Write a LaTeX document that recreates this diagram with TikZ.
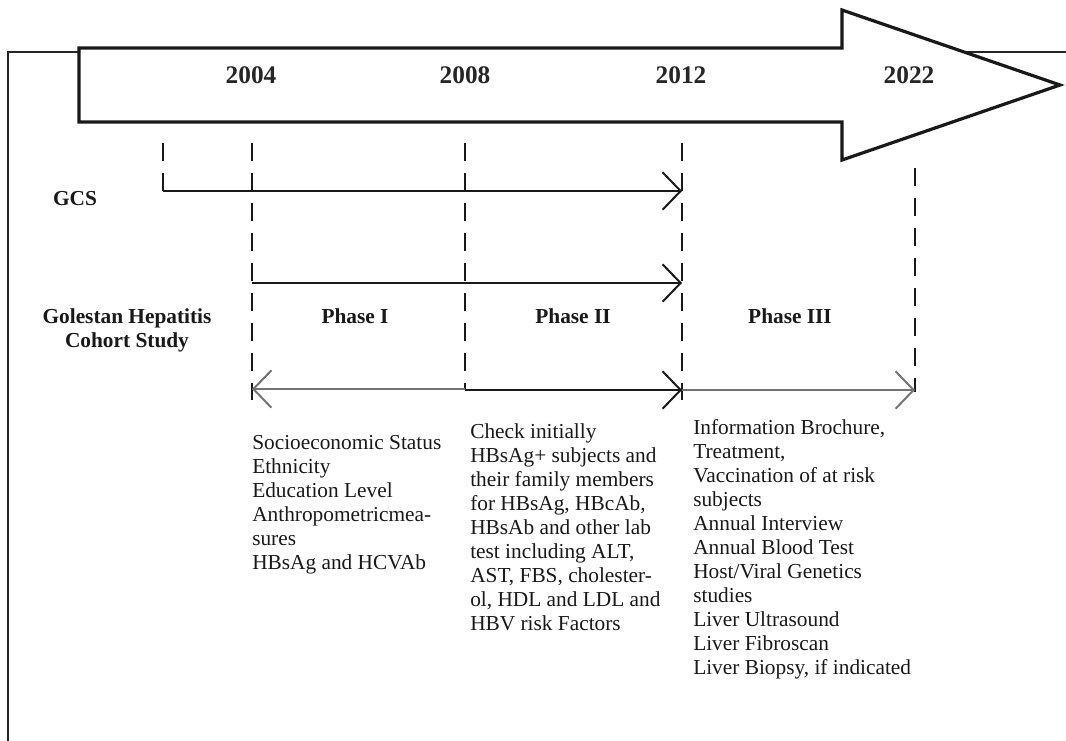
\documentclass[tikz,border=0pt]{standalone}
\usepackage{fontspec}
\setmainfont{Liberation Serif}
\usetikzlibrary{arrows.meta}
\begin{document}
\begin{tikzpicture}[x=0.75pt,y=-0.75pt,
  frameline/.style={line width=1.1pt,black!85},
  bigarrow/.style={line width=2.4pt,black!90,fill=white,line join=miter},
  dashv/.style={line width=1.8pt,black!90,dash pattern=on 13.5pt off 9pt},
  barb/.style={-{Straight Barb[length=13.5pt,width=28pt]}},
  blackarrow/.style={barb,line width=1.5pt,black!90},
  grayarrow/.style={barb,line width=1.5pt,black!55},
  yearlbl/.style={font=\fontsize{19}{22}\selectfont\bfseries,text=black!85,anchor=base,inner sep=0pt},
  boldlbl/.style={font=\fontsize{16}{18}\selectfont\bfseries,text=black!90,anchor=base,inner sep=0pt,align=center},
  bodytxt/.style={font=\fontsize{16}{18}\selectfont,text=black!90,anchor=north west,inner sep=0pt,align=left}]
\useasboundingbox (0,0) rectangle (1066,740);
% frame
\coordinate (fb) at (8,742);
\coordinate (ft) at (8,52);
\coordinate (fr) at (1068,52);
\draw[frameline] (fb) -- (ft) -- (fr);
% big timeline arrow
\draw[bigarrow] (79,48) -- (842,48) -- (842,10) -- (1060,85) -- (842,160) -- (842,122) -- (79,122) -- cycle;
\node[yearlbl] (y2004) at (251,83) {2004};
\node[yearlbl] (y2008) at (465,83) {2008};
\node[yearlbl] (y2012) at (681,83) {2012};
\node[yearlbl] (y2022) at (909,83) {2022};
% dashed verticals
\coordinate (a1) at (163,143); \coordinate (a2) at (163,192);
\coordinate (b1) at (252,143); \coordinate (b2) at (252,400);
\coordinate (c1) at (465,143); \coordinate (c2) at (465,389);
\coordinate (d1) at (682,143); \coordinate (d2) at (682,400);
\coordinate (e1) at (915,168); \coordinate (e2) at (915,392);
\draw[dashv] (a1) -- (a2);
\draw[dashv] (b1) -- (b2);
\draw[dashv] (c1) -- (c2);
\draw[dashv] (d1) -- (d2);
\draw[dashv] (e1) -- (e2);
% study arrows
\coordinate (gs) at (163,191); \coordinate (ge) at (682,191);
\draw[blackarrow] (gs) -- (ge);
\coordinate (hs) at (252,283); \coordinate (he) at (682,283);
\draw[blackarrow] (hs) -- (he);
% phase arrows
\coordinate (p0) at (252,389); \coordinate (p1) at (465,389);
\coordinate (p2) at (682,390); \coordinate (p3) at (915,390);
\draw[grayarrow] (p1) -- (p0);
\draw[blackarrow] (p1 |- p2) -- (p2);
\draw[grayarrow] (p2) -- (p3);
% labels
\node[boldlbl] (gcs) at (75,205) {GCS};
\node[boldlbl,anchor=north] (ghcs) at (127,308) {Golestan Hepatitis\\Cohort Study};
\node[boldlbl] (ph1) at (355,323) {Phase I};
\node[boldlbl] (ph2) at (573,323) {Phase II};
\node[boldlbl] (ph3) at (790,323) {Phase III};
% texts
\node[bodytxt] (t1) at (252,435.5) {Socioeconomic Status\\Ethnicity\\Education Level\\Anthropometricmea-\\sures\\HBsAg and HCVAb};
\node[bodytxt] (t2) at (470,423.5) {Check initially\\HBsAg+ subjects and\\their family members\\for HBsAg, HBcAb,\\HBsAb and other lab\\test including ALT,\\AST, FBS, cholester-\\ol, HDL and LDL and\\HBV risk Factors};
\node[bodytxt] (t3) at (693,419.5) {Information Brochure,\\Treatment,\\Vaccination of at risk\\subjects\\Annual Interview\\Annual Blood Test\\Host/Viral Genetics\\studies\\Liver Ultrasound\\Liver Fibroscan\\Liver Biopsy, if indicated};
\end{tikzpicture}
\end{document}
